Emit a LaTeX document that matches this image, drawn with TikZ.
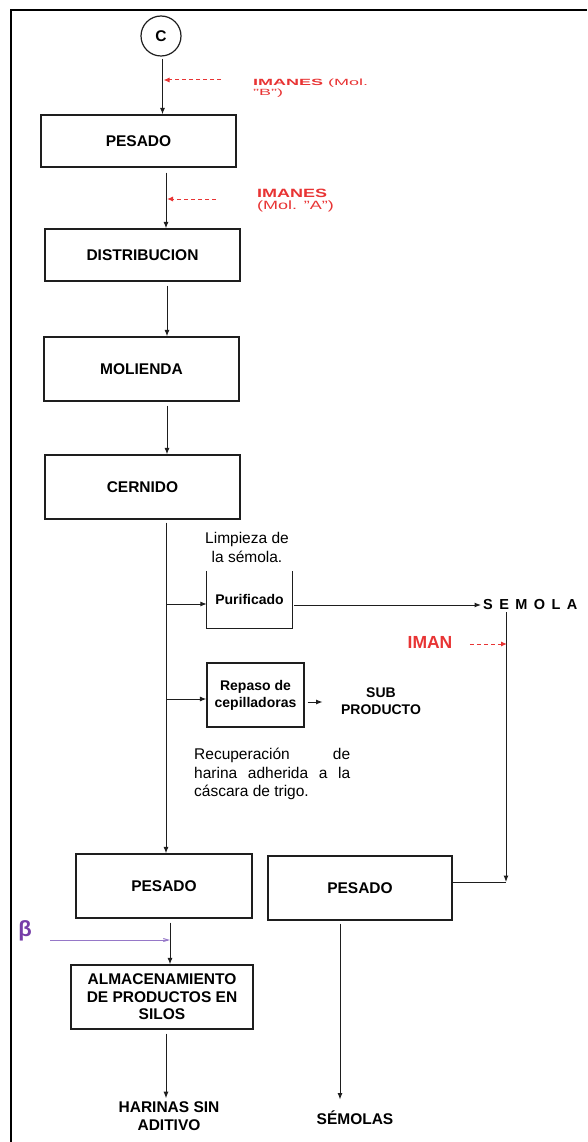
\documentclass[tikz,border=0pt]{standalone}
\usepackage{fontspec}
\usepackage{graphicx}
\setmainfont{Liberation Sans}
\usetikzlibrary{arrows.meta}

\definecolor{ink}{RGB}{30,30,30}
\definecolor{inkred}{RGB}{232,52,52}
\definecolor{betapurple}{RGB}{118,62,168}
\definecolor{lilac}{RGB}{150,120,200}

\newcommand{\procfont}{\bfseries\fontsize{15.5}{17.5}\selectfont}
\newcommand{\subfont}{\bfseries\fontsize{14}{17}\selectfont}
\newcommand{\semfont}{\bfseries\fontsize{14.5}{17}\selectfont}
\newcommand{\plainfont}{\fontsize{15.5}{19}\selectfont}

\begin{document}
\begin{tikzpicture}[x=1pt,y=-1pt,
  procbox/.style={draw=ink,line width=1.2pt,inner sep=0pt,align=center,font=\procfont},
  flow/.style={draw=ink,line width=1pt,-{Latex[length=6.5pt,width=5pt]}},
  magnet/.style={draw=inkred,line width=1pt,dash pattern=on 4pt off 3pt,-{Latex[length=6pt,width=5pt]}},
  plainline/.style={draw=ink,line width=1pt}]

\useasboundingbox (0,0) rectangle (587,1142);

% page frame
\draw[line width=2pt,black] (11,1142) -- (11,10) -- (587,10);

% guide abscissae of the vertical connectors
\coordinate (xa) at (162.5,0);
\coordinate (xb) at (166,0);
\coordinate (xc) at (167,0);
\coordinate (xd) at (166,0);
\coordinate (xe) at (170,0);
\coordinate (xf) at (340,0);
\coordinate (sx) at (506,0);

% main column
\node[circle,draw=ink,line width=1.2pt,minimum size=40pt,inner sep=0pt,font=\procfont] (c) at (161,36) {C};
\node[procbox,minimum width=195pt,minimum height=52pt] (p1) at (138.5,141) {PESADO};
\node[procbox,minimum width=195pt,minimum height=52pt] (dist) at (142.5,255) {DISTRIBUCION};
\node[procbox,minimum width=195pt,minimum height=64pt] (mol) at (141.5,369) {MOLIENDA};
\node[procbox,minimum width=195pt,minimum height=64pt] (cern) at (142.5,487) {CERNIDO};
\node[procbox,minimum width=176pt,minimum height=64pt] (p2) at (164,886) {PESADO};
\node[procbox,minimum width=184pt,minimum height=64pt] (p3) at (360,888) {PESADO};
\node[procbox,minimum width=182pt,minimum height=64pt] (silo) at (162,997) {ALMACENAMIENTO\\DE PRODUCTOS EN\\SILOS};

% magnet labels
\node[anchor=west,inner sep=0pt,text=inkred] (magB) at (253,88.5)
  {\scalebox{2}[1]{\fontsize{9}{9}\selectfont\begin{tabular}{@{}l@{}}\textbf{IMANES} (Mol.\\"B")\end{tabular}}};
\node[anchor=west,inner sep=0pt,text=inkred] (magA) at (257,201)
  {\scalebox{1.5}[1]{\fontsize{12}{12.5}\selectfont\begin{tabular}{@{}l@{}}\textbf{IMANES}\\(Mol. "A")\end{tabular}}};
\coordinate (mB) at (221,80);
\coordinate (mA) at (216,199);

% side branches
\node[font=\plainfont,align=center] (limp) at (247,547.5) {Limpieza de\\la sémola.};
\node[inner sep=0pt,minimum width=85pt,minimum height=57pt,font=\subfont] (pur) at (249.5,599.5) {Purificado};
\node[font=\semfont,inner sep=2pt,anchor=west] (sem) at (481,605)
  {S\hspace{6.4pt}E\hspace{6.4pt}M\hspace{6.4pt}O\hspace{6.4pt}L\hspace{6.4pt}A};
\node[font=\bfseries\fontsize{17.5}{20}\selectfont,text=inkred] (iman) at (430,642) {IMAN};
\node[procbox,font=\subfont,minimum width=97pt,minimum height=64pt] (rep) at (255.5,695) {Repaso de\\cepilladoras};
\node[font=\subfont,align=center] (sub) at (381,701.5) {SUB\\PRODUCTO};
\node[font=\plainfont,anchor=base west,inner sep=0pt] (rec1) at (194,759.5) {\makebox[156pt][s]{Recuperación de}};
\node[font=\plainfont,anchor=base west,inner sep=0pt] (rec2) at (194,778) {\makebox[156pt][s]{harina adherida a la}};
\node[font=\plainfont,anchor=base west,inner sep=0pt] (rec3) at (194,796.5) {cáscara de trigo.};

% outputs
\node[font=\procfont,align=center] (har) at (169,1116) {HARINAS SIN\\ADITIVO};
\node[font=\procfont] (semolas) at (355,1118) {SÉMOLAS};
\node[text=betapurple,font=\bfseries\fontsize{22}{22}\selectfont] (beta) at (25,931) {β};

% Purificado is open at the top
\draw[draw=ink,line width=1.2pt] (pur.north west) -- (pur.south west) -- (pur.south east) -- (pur.north east);

% connectors of the main column
\draw[flow,shorten <=2pt] (c.south -| xa) -- (p1.north -| xa);
\draw[magnet,shorten >=1pt] (mB) -- (mB -| xa);
\draw[flow,shorten <=5pt] (p1.south -| xb) -- (dist.north -| xb);
\draw[magnet,shorten >=1pt] (mA) -- (mA -| xb);
\draw[flow,shorten <=4pt] (dist.south -| xc) -- (mol.north -| xc);
\draw[flow,shorten <=4pt] (mol.south -| xc) -- (cern.north -| xc);
\draw[flow,shorten <=3pt] (cern.south -| xd) -- (p2.north -| xd);

% branches off the main line
\coordinate (bp) at (166,604);
\coordinate (br) at (166,699);
\draw[flow] (bp) -- (bp -| pur.west);
\draw[flow] (br) -- (br -| rep.west);
\draw[flow,shorten <=2pt] (pur.east |- sem.west) -- (sem.west);
\draw[flow,shorten <=3pt,shorten >=15pt] ([yshift=-7pt]rep.east) -- ([yshift=-7pt]rep.east -| sub.west);

% semolina line
\coordinate (join) at (506,882);
\draw[flow] (sem.south -| sx) -- (join);
\draw[plainline] (join -| p3.east) -- (join);
\draw[magnet,shorten <=14pt,shorten >=-1pt] ([yshift=-2pt]iman.east) -- ([yshift=-2pt]iman.east -| sx);

% storage and outputs
\coordinate (bj) at (170,940);
\coordinate (bs) at (50,940);
\draw[flow,shorten <=4pt] (p2.south -| xe) -- (silo.north -| xe);
\draw[lilac,line width=1pt,-{Straight Barb[length=5pt,width=3pt]}] (bs) -- (bj);
\draw[flow,shorten <=4pt] (silo.south -| xd) -- (har.north -| xd);
\draw[flow,shorten <=3pt,shorten >=8pt] (p3.south -| xf) -- (semolas.north -| xf);

\end{tikzpicture}
\end{document}
